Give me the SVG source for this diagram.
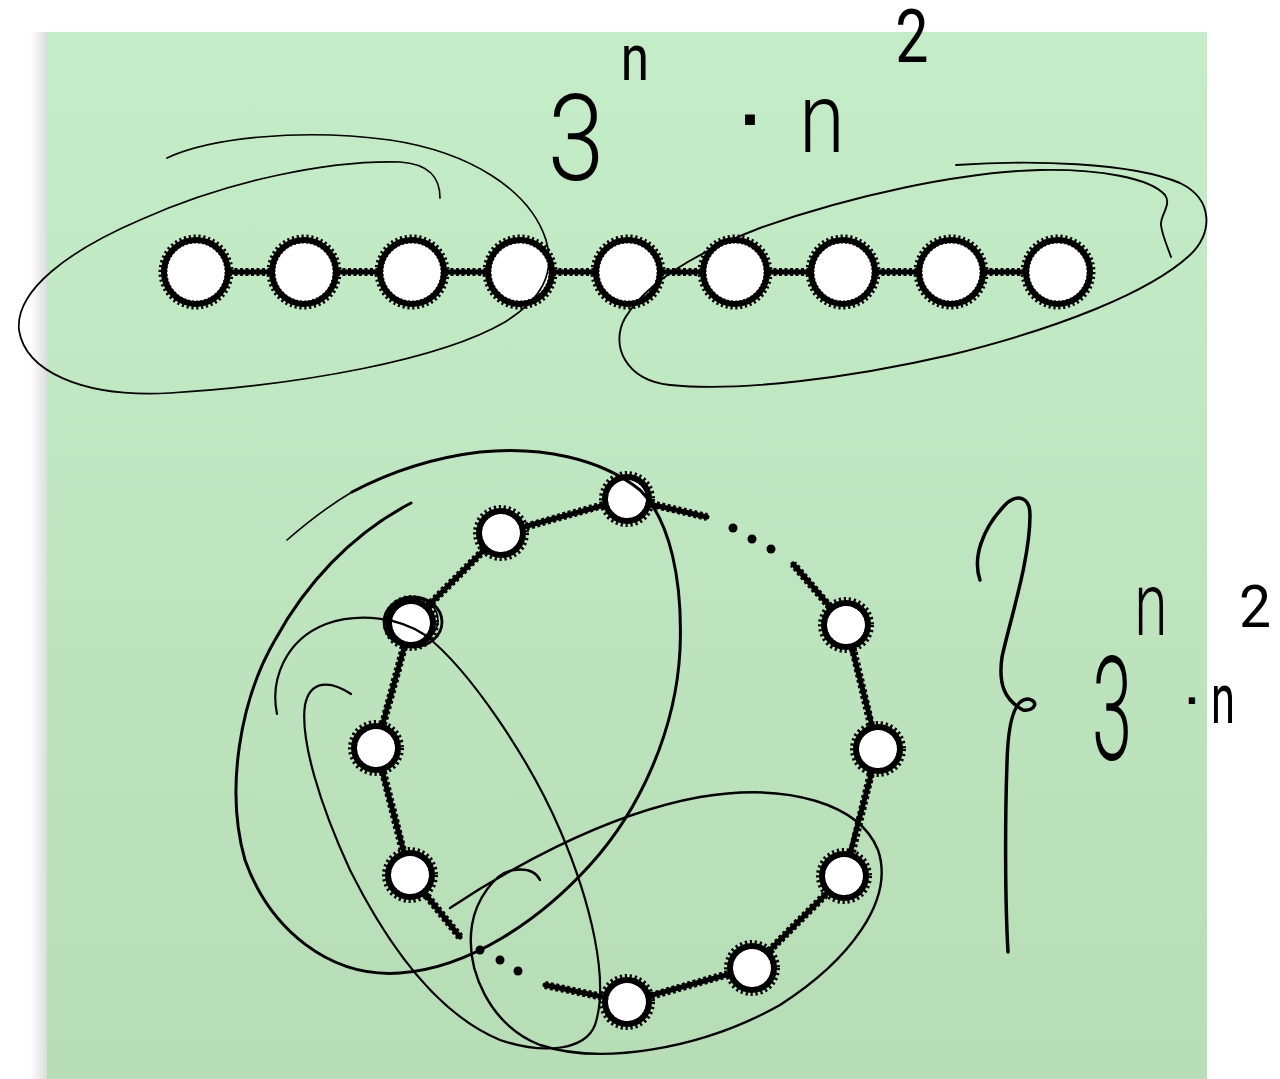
<svg xmlns="http://www.w3.org/2000/svg" width="1280" height="1079" viewBox="0 0 1280 1079">
<defs>
<linearGradient id="paper" x1="0" y1="0" x2="0" y2="1">
<stop offset="0" stop-color="#c4edc7"/>
<stop offset="1" stop-color="#b7ddb6"/>
</linearGradient>
<linearGradient id="shade" x1="0" y1="0" x2="1" y2="0">
<stop offset="0" stop-color="#ffffff"/>
<stop offset="1" stop-color="#dcdcdc"/>
</linearGradient>
<style>
.nd{fill:#fff;stroke:#000;stroke-width:6}
.fz{fill:none;stroke:#000;stroke-width:9;stroke-dasharray:2 2.5}
.ed{fill:none;stroke:#000;stroke-width:5;stroke-linecap:round}
.edf{fill:none;stroke:#000;stroke-width:8;stroke-dasharray:3 2.5}
.las{fill:none;stroke:#000;stroke-linecap:round;stroke-linejoin:round}
.hw{font-family:Roboto,"Liberation Sans",sans-serif;font-weight:300;fill:#000;text-anchor:middle}
.hw4{font-family:Roboto,"Liberation Sans",sans-serif;font-weight:400;fill:#000;text-anchor:middle}
.dot{font-family:"Liberation Sans",sans-serif;font-weight:700;fill:#000;text-anchor:middle}
</style>
</defs>
<rect x="0" y="0" width="1280" height="1079" fill="#fff"/>
<rect x="30" y="32" width="17" height="1047" fill="url(#shade)"/>
<rect x="47" y="32" width="1160" height="1047" fill="url(#paper)"/>

<g id="connectors">
<path class="ed" d="M196,272 H1058"/>
<path class="edf" d="M229,272 H271 M337,272 H379 M445,272 H487 M553,272 H595 M661,272 H702 M768,272 H810 M876,272 H918 M984,272 H1025"/>
<path class="ed" d="M627,499 L501,533 L411,623 L376,748 L410,875 L460,937 M545,985 L627,1002 L752,968 L844,876 L878,749 L846,625 L793,564 M627,499 L707,517"/>
<path class="edf" d="M603,505 L525,527 M484,550 L428,606 M404,647 L383,724 M383,772 L403,851 M427,896 L460,937 M545,985 L603,997 M651,996 L728,974 M769,951 L827,893 M852,852 L871,773 M871,725 L853,649 M830,607 L793,564 M651,504 L707,517"/>
<circle cx="480" cy="950" r="4.5"/>
<circle cx="500" cy="960" r="4.5"/>
<circle cx="518" cy="971" r="4.5"/>
<circle cx="733" cy="528" r="4.5"/>
<circle cx="752" cy="539" r="4.5"/>
<circle cx="771" cy="549" r="4.5"/>
</g>

<g id="row-nodes">
<g id="t1"><circle class="nd" cx="196" cy="272" r="32"/><circle class="fz" cx="196" cy="272" r="33"/></g>
<g id="t2"><circle class="nd" cx="304" cy="272" r="32"/><circle class="fz" cx="304" cy="272" r="33"/></g>
<g id="t3"><circle class="nd" cx="412" cy="272" r="32"/><circle class="fz" cx="412" cy="272" r="33"/></g>
<g id="t4"><circle class="nd" cx="520" cy="272" r="32"/><circle class="fz" cx="520" cy="272" r="33"/></g>
<g id="t5"><circle class="nd" cx="628" cy="272" r="32"/><circle class="fz" cx="628" cy="272" r="33"/></g>
<g id="t6"><circle class="nd" cx="735" cy="272" r="32"/><circle class="fz" cx="735" cy="272" r="33"/></g>
<g id="t7"><circle class="nd" cx="843" cy="272" r="32"/><circle class="fz" cx="843" cy="272" r="33"/></g>
<g id="t8"><circle class="nd" cx="951" cy="272" r="32"/><circle class="fz" cx="951" cy="272" r="33"/></g>
<g id="t9"><circle class="nd" cx="1058" cy="272" r="32"/><circle class="fz" cx="1058" cy="272" r="33"/></g>
</g>

<g id="ring-nodes">
<g id="r1"><circle class="nd" cx="627" cy="499" r="22"/><circle class="fz" cx="627" cy="499" r="23.5"/></g>
<g id="r2"><circle class="nd" cx="501" cy="533" r="22"/><circle class="fz" cx="501" cy="533" r="23.5"/></g>
<g id="r3"><circle class="nd" cx="411" cy="623" r="22"/><circle class="fz" cx="411" cy="623" r="23.5"/></g>
<g id="r4"><circle class="nd" cx="376" cy="748" r="22"/><circle class="fz" cx="376" cy="748" r="23.5"/></g>
<g id="r5"><circle class="nd" cx="410" cy="875" r="22"/><circle class="fz" cx="410" cy="875" r="23.5"/></g>
<g id="r6"><circle class="nd" cx="627" cy="1002" r="22"/><circle class="fz" cx="627" cy="1002" r="23.5"/></g>
<g id="r7"><circle class="nd" cx="752" cy="968" r="22"/><circle class="fz" cx="752" cy="968" r="23.5"/></g>
<g id="r8"><circle class="nd" cx="844" cy="876" r="22"/><circle class="fz" cx="844" cy="876" r="23.5"/></g>
<g id="r9"><circle class="nd" cx="878" cy="749" r="22"/><circle class="fz" cx="878" cy="749" r="23.5"/></g>
<g id="r10"><circle class="nd" cx="846" cy="625" r="22"/><circle class="fz" cx="846" cy="625" r="23.5"/></g>
</g>

<g id="lassos">
<path class="las" stroke-width="1.7" d="M167,158 C210,138 300,128 390,140 C470,152 530,190 546,240 C556,275 540,300 505,322 C440,360 300,385 170,393 C80,398 25,370 19,330 C15,290 70,250 140,220 C230,180 330,160 400,162 C430,164 440,178 440,198"/>
<path class="las" stroke-width="1.9" d="M956,165 C1030,160 1130,162 1180,183 C1215,200 1212,235 1190,255 C1150,292 1060,328 950,355 C850,378 740,392 670,385 C625,380 610,345 625,318 C645,285 690,255 760,228 C850,196 960,172 1040,170 C1100,169 1150,178 1165,195 C1172,205 1160,215 1161,225 C1162,235 1168,248 1171,257"/>
<path class="las" stroke-width="1.6" d="M287,540 C310,520 330,505 352,492"/>
<path class="las" stroke-width="3" d="M352,492 C390,472 430,458 480,452 C540,446 600,458 640,490 C670,520 683,580 680,650 C676,730 640,810 590,865 C540,920 470,968 400,973 C330,978 270,930 245,860 C225,790 240,700 275,640 C305,585 350,535 411,503"/>
<path class="las" stroke-width="2.2" d="M277,714 C270,680 285,640 326,624 C360,612 400,618 425,635 C470,670 530,760 560,830 C590,900 610,980 595,1025 C585,1050 545,1055 500,1040 C440,1015 390,950 350,870 C320,805 300,740 305,705 C310,680 330,680 351,694"/>
<path class="las" stroke-width="2.4" d="M450,908 C500,875 600,815 700,797 C790,782 860,805 878,850 C895,900 850,960 780,1005 C700,1050 600,1065 540,1045 C490,1025 465,970 472,925 C476,900 495,872 514,870 C528,868 536,872 540,880"/>
<ellipse class="las" stroke-width="2.8" cx="413" cy="622" rx="29" ry="25"/>
<ellipse class="las" stroke-width="1.6" cx="412" cy="621" rx="26" ry="23" transform="rotate(-10 412 621)"/>
<path class="las" stroke-width="3.5" d="M980,580 C973,560 980,530 1007,503 C1018,494 1030,497 1030,515 C1030,560 1010,620 1002,657 C998,685 1005,700 1023,710 C1035,712 1040,700 1027,699 C1015,700 1008,720 1007,763 C1005,820 1005,900 1008,952"/>
</g>

<g id="labels">
<text class="hw" font-size="120" transform="translate(576,180) scale(0.85,1)">3</text>
<text class="hw4" font-size="64" transform="translate(635,80) scale(0.8,1)">n</text>
<text class="dot" font-size="70" x="752" y="143">·</text>
<text class="hw" font-size="98" transform="translate(822,152) scale(0.85,1)">n</text>
<text class="hw4" font-size="74" transform="translate(912,62) scale(0.8,1)">2</text>
<text class="hw" font-size="89" transform="translate(1151,635) scale(0.68,1)">n</text>
<text class="hw4" font-size="60" transform="translate(1255,627) scale(0.95,1)">2</text>
<text class="hw" font-size="145" transform="translate(1112,760) scale(0.5,1)">3</text>
<text class="dot" font-size="44" x="1193" y="716">·</text>
<text class="hw4" font-size="70" transform="translate(1223,723) scale(0.62,1)">n</text>
</g>
</svg>
